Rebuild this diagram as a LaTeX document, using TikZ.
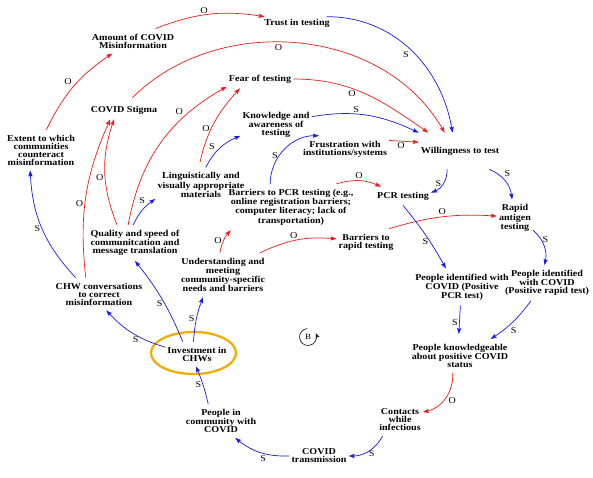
\documentclass[tikz,border=0pt]{standalone}
\usepackage{fontspec}
\setmainfont{Liberation Serif}[FakeStretch=1.12]
\usetikzlibrary{arrows.meta}
\definecolor{linkred}{RGB}{240,24,24}
\definecolor{linkblue}{RGB}{24,24,232}
\definecolor{ringorange}{RGB}{242,172,10}

\begin{document}
\begin{tikzpicture}[x=1pt, y=1pt,
  var/.style={font=\bfseries\fontsize{9}{8}\selectfont, align=center, inner xsep=2pt, inner ysep=5pt},
  opp/.style={draw=linkred, line width=.7pt, -{Stealth[length=6pt,width=4.2pt,inset=1pt]}},
  same/.style={draw=linkblue, line width=.7pt, -{Stealth[length=6pt,width=4.2pt,inset=1pt]}},
  pol/.style={font=\fontsize{9}{9}\selectfont, inner sep=1.5pt}]
  \useasboundingbox (0,0) rectangle (593,-478);
  \node[var, inner ysep=2pt] at (297,-23) (trust) {Trust in testing};
  \node[var] at (133,-41) (amt) {Amount of COVID\\Misinformation};
  \node[var] at (260,-79) (fear) {Fear of testing};
  \node[var] at (124,-110) (stigma) {COVID Stigma};
  \node[var] at (276,-125) (know) {Knowledge and\\awareness of\\testing};
  \node[var] at (41,-150) (extent) {Extent to which\\communities\\counteract\\misinformation};
  \node[var] at (345,-149) (frust) {Frustration with\\institutions/systems};
  \node[var, inner ysep=14pt] at (460,-151) (will) {Willingness to test};
  \node[var] at (201,-185) (ling) {Linguistically and\\visually appropriate\\materials};
  \node[var] at (291,-207) (bpcr) {Barriers to PCR testing (e.g.,\\online registration barriers;\\computer literacy; lack of\\transportation)};
  \node[var] at (403,-196) (pcr) {PCR testing};
  \node[var] at (515,-218) (rapid) {Rapid\\antigen\\testing};
  \node[var] at (135,-243) (quality) {Quality and speed of\\communitcation and\\message translation};
  \node[var] at (366,-242) (brapid) {Barriers to\\rapid testing};
  \node[var] at (223,-275) (meet) {Understanding and\\meeting\\community-specific\\needs and barriers};
  \node[var] at (99,-294) (chw) {CHW conversations\\to correct\\misinformation};
  \node[var] at (462,-287) (idpcr) {People identified with\\COVID (Positive\\PCR test)};
  \node[var] at (547,-283) (idrapid) {People identified\\with COVID\\(Positive rapid test)};
  \node[var] at (197,-354) (invest) {Investment in\\CHWs};
  \node[var] at (460,-356) (aware) {People knowledgeable\\about positive COVID\\status};
  \node[var] at (400,-420) (contacts) {Contacts\\while\\infectious};
  \node[var] at (221,-421) (infected) {People in\\community with\\COVID};
  \node[var] at (319,-456) (spread) {COVID\\transmission};
  \node[pol, font=\fontsize{8}{8}\selectfont] at (308,-337) (loopB) {B};
  \draw[ringorange, line width=2.3pt] (invest.center) ++(-3.5,1) ellipse [x radius=42.5, y radius=21];
  \draw[line width=.6pt, -{Stealth[length=5pt,width=4pt]}] (loopB.center) ++(95:8.5pt) arc[start angle=95, end angle=385, radius=8.5pt];
  \draw[opp] (amt.29) to[bend left=15] node[pol, pos=.45, above] {O} (trust.169);
  \draw[same] (trust.12) to[out=0, in=100] node[pol, pos=.5, below left] {S} (will.112);
  \draw[opp, shorten <=4pt] (stigma.60) to[out=45, in=120] node[pol, pos=.45, below] {O} (will.130);
  \draw[opp] (fear.east) to[out=0, in=145] node[pol, pos=.4, below] {O} (will.150);
  \draw[same] (know.13) to[out=10, in=155] node[pol, pos=.4, above] {S} (will.north west);
  \draw[opp] (frust.11) -- node[pol, pos=.4, below] {O} (will.168);
  \draw[opp] (extent.75) to[bend left=15] node[pol, pos=.5, above left] {O} (amt.211);
  \draw[same] (chw.145) to[bend left=20] node[pol, pos=.5, left] {S} (extent.242);
  \draw[opp] (chw.129) to[bend left=15] node[pol, pos=.45, left] {O} (stigma.214);
  \draw[opp] (quality.135) to[bend left=20] node[pol, pos=.45, left] {O} (stigma.223);
  \draw[opp] (quality.111) to[bend left=25] node[pol, pos=.72, above left] {O} (fear.193);
  \draw[same] (quality.96) to[bend left=15] node[pol, pos=.7, above left] {S} (ling.197);
  \draw[opp, shorten <=5pt] (ling.97) to[bend left=15] node[pol, pos=.45, left] {O} (fear.205);
  \draw[same] (ling.75) to[bend left=20] node[pol, pos=.4, above left] {S} (know.197);
  \draw[same] (bpcr.132) to[bend left=45] node[pol, pos=.4, left] {S} (frust.153);
  \draw[opp] (bpcr.27) to[bend left=20] node[pol, pos=.5, above] {O} (pcr.157);
  \draw[opp] (meet.98) to[bend left=15] node[pol, pos=.5, left] {O} (bpcr.201);
  \draw[opp] (meet.31) to[bend left=15] node[pol, pos=.45, above] {O} (brapid.174);
  \draw[opp] (brapid.30) to[bend left=10] node[pol, pos=.5, above] {O} (rapid.174);
  \draw[same] (will.235) to[bend left=35] node[pol, pos=.5, left] {S} (pcr.7);
  \draw[same] (will.328) to[bend left=30] node[pol, pos=.4, above right] {S} (rapid.99);
  \draw[same] (pcr.south) to[bend left=5] node[pol, pos=.6, left] {S} (idpcr.131);
  \draw[same] (rapid.326) to[bend left=30] node[pol, pos=.3, right] {S} (idrapid.98);
  \draw[same, shorten >=5pt] (idpcr.265) -- node[pol, pos=.5, left] {S} (aware.95);
  \draw[same] (idrapid.228) to[bend left=10] node[pol, pos=.6, below right] {S} (aware.29);
  \draw[opp] (aware.247) to[bend left=40] node[pol, pos=.45, below right] {O} (contacts.19);
  \draw[same] (contacts.223) to[bend left=30] node[pol, pos=.4, below] {S} (spread.east);
  \draw[same] (spread.west) to[bend left=20] node[pol, pos=.45, below] {S} (infected.310);
  \draw[same] (infected.127) to[bend right=5] node[pol, pos=.5, left] {S} (invest.265);
  \draw[same] (invest.168) to[bend left=15] node[pol, pos=.45, below] {S} (chw.294);
  \draw[same] (invest.139) to[bend right=8] node[pol, pos=.45, left] {S} (quality.270);
  \draw[same] (invest.106) to[bend left=8] node[pol, pos=.5, left] {S} (meet.228);
\end{tikzpicture}
\end{document}
